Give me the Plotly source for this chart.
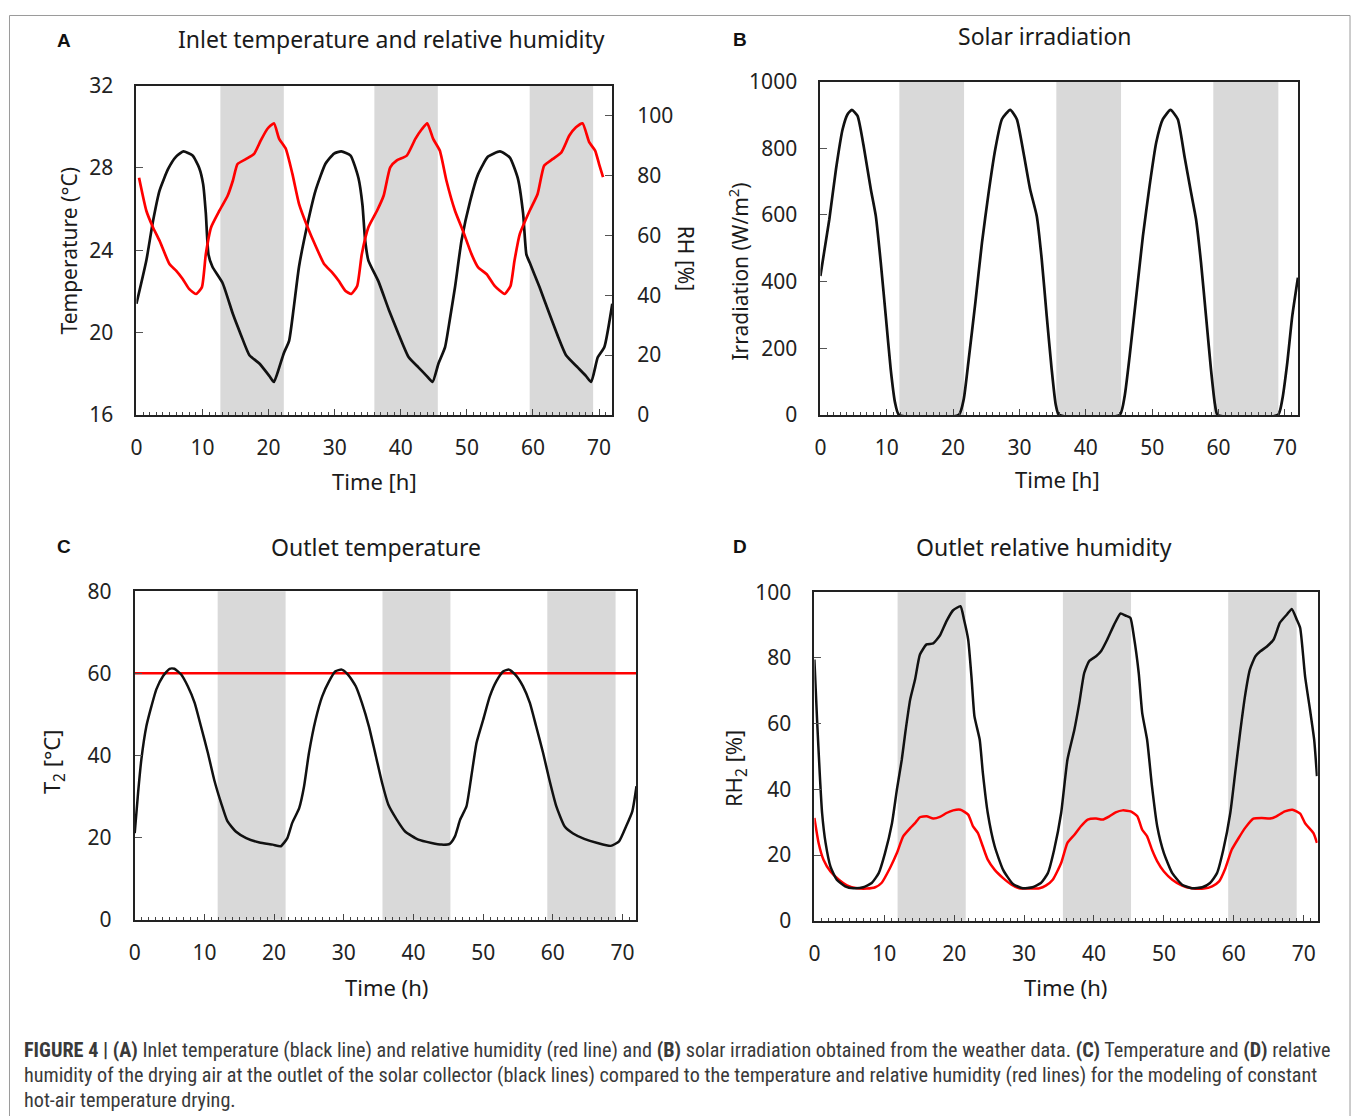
import plotly.graph_objects as go

# ---------------- data ----------------
# Panel A: inlet temperature (°C) and relative humidity (%)
a_temp_t = [0, 1.5, 2.5, 3.5, 4.8, 6.0, 7.1, 8.5, 9.5, 10.1, 10.5, 10.9, 11.5, 13.05, 14.6, 15.8, 17.1, 18.6,
            20.1, 20.8, 21.6, 22.3, 23.1, 23.8, 24.6, 25.9, 27.1, 28.6, 29.9, 31.0, 32.4, 33.6, 34.2, 34.6, 35.1,
            36.6, 38.2, 39.7, 41.2, 42.7, 43.9, 44.8, 45.7, 46.7, 47.4, 48.2, 49.2, 50.5, 51.7, 53.2, 55.0, 56.5,
            57.7, 58.5, 59.0, 59.5, 61.0, 62.5, 63.8, 65.0, 66.8, 68.0, 68.8, 69.8, 70.8, 72.0]
a_temp = [21.4, 23.5, 25.4, 26.9, 27.95, 28.55, 28.8, 28.6, 28.0, 27.2, 25.8, 23.8, 23.2, 22.4, 20.9, 19.9, 18.9,
          18.5, 17.9, 17.6, 18.3, 19.0, 19.6, 21.2, 23.2, 25.3, 26.9, 28.2, 28.7, 28.8, 28.6, 27.5, 26.2, 24.5,
          23.5, 22.5, 21.1, 19.9, 18.8, 18.3, 17.9, 17.6, 18.5, 19.3, 20.6, 22.2, 24.5, 26.4, 27.7, 28.55, 28.8,
          28.5, 27.5, 25.8, 23.8, 23.4, 22.2, 20.9, 19.8, 18.9, 18.3, 17.9, 17.6, 18.8, 19.3, 21.4]
a_rh_t = [0.4, 1.5, 2.5, 3.5, 5.0, 6.0, 7.0, 8.0, 9.0, 9.9, 10.5, 11.3, 12.55, 13.8, 14.6, 15.3, 16.6, 17.8, 18.8,
          19.8, 20.8, 21.6, 22.6, 23.6, 24.6, 25.9, 27.1, 28.4, 29.6, 30.6, 31.6, 32.5, 33.4, 34.1, 35.1, 36.4,
          37.4, 38.4, 39.4, 40.9, 42.2, 43.2, 44.0, 44.9, 45.9, 46.9, 48.2, 49.4, 50.7, 51.7, 53.0, 54.2, 55.7,
          56.6, 57.2, 58.0, 59.5, 60.7, 61.7, 63.0, 64.3, 65.5, 66.5, 67.5, 68.5, 69.4, 70.0, 70.6]
a_rh = [79.2, 68.2, 62.7, 58.2, 50.4, 48.2, 45.4, 42.0, 40.4, 42.6, 53.7, 62.7, 68.2, 73.2, 78.3, 83.8, 85.5, 87.2,
        91.6, 95.5, 97.4, 92.2, 88.9, 80.5, 70.5, 62.7, 56.5, 50.4, 47.6, 44.8, 41.5, 40.4, 43.1, 53.7, 62.7, 68.2,
        73.2, 82.7, 85.0, 86.6, 92.2, 95.5, 97.4, 92.2, 88.3, 78.3, 68.2, 61.5, 53.7, 49.3, 47.0, 43.1, 40.4, 43.1,
        51.5, 60.4, 68.2, 73.8, 83.3, 85.5, 87.7, 93.3, 96.1, 97.4, 91.1, 88.3, 83.8, 79.4]
a_nights = [(12.7, 22.3), (36.0, 45.6), (59.5, 69.1)]

# Panel B: solar irradiation (W/m2)
b_t = [0, 1.35, 2.35, 3.35, 4.1, 4.75, 5.6, 6.6, 7.6, 8.35, 9.1, 9.85, 10.6, 11.25, 11.85, 20.85, 21.6, 22.35,
       23.35, 24.35, 25.35, 26.35, 27.35, 28.6, 29.6, 30.6, 31.6, 32.6, 33.35, 34.1, 34.85, 35.45, 35.95, 45.1,
       45.85, 46.6, 47.6, 48.6, 49.6, 50.6, 51.6, 52.75, 53.85, 54.85, 55.85, 56.6, 57.35, 58.1, 58.85, 59.45,
       59.85, 68.95, 69.6, 70.35, 71.1, 71.95]
b_irr = [417, 587, 737, 857, 902, 915, 897, 797, 677, 597, 457, 297, 137, 37, 0, 0, 47, 167, 337, 517, 667, 797,
         887, 915, 887, 787, 677, 597, 467, 297, 137, 32, 0, 0, 57, 177, 357, 537, 687, 817, 887, 915, 887, 777,
         667, 587, 457, 297, 137, 32, 0, 0, 47, 157, 297, 412]
b_nights = [(11.9, 21.65), (35.55, 45.3), (59.2, 69.0)]

# Panel C: outlet temperature T2 (°C) and constant hot-air temperature
c_t = [0, 0.48, 0.95, 1.67, 2.4, 3.1, 4.05, 5.0, 5.7, 6.67, 7.6, 8.6, 9.5, 10.5, 11.4, 12.4, 13.3, 14.5, 16.0,
       17.9, 19.8, 20.95, 21.9, 22.6, 23.6, 24.3, 25.0, 25.95, 26.9, 27.9, 28.8, 29.7, 30.6, 31.7, 32.6, 33.6,
       34.5, 35.5, 36.4, 37.6, 38.8, 40.7, 42.6, 44.0, 45.2, 45.95, 46.7, 47.6, 48.3, 49.05, 50.0, 50.95, 51.9,
       52.9, 53.7, 54.6, 55.7, 56.7, 57.6, 58.6, 59.5, 60.5, 61.7, 62.9, 64.5, 66.4, 68.3, 69.5, 70.5, 71.4, 72.0]
c_t2 = [21.1, 30.9, 39.0, 47.1, 52.0, 56.1, 59.3, 61.1, 61.1, 59.7, 56.9, 52.8, 47.1, 40.6, 34.1, 28.4, 24.0,
        21.5, 19.9, 18.8, 18.3, 17.9, 19.9, 23.6, 27.2, 32.5, 40.6, 48.7, 54.4, 58.1, 60.5, 60.9, 59.7, 56.9,
        52.8, 47.1, 40.6, 33.3, 28.0, 24.4, 21.5, 19.5, 18.7, 18.3, 18.5, 20.3, 24.4, 27.6, 34.9, 43.1, 48.7,
        54.4, 58.1, 60.5, 60.9, 59.7, 56.9, 52.8, 47.1, 40.6, 34.1, 27.6, 22.7, 21.0, 19.7, 18.7, 18.0, 19.1,
        22.7, 26.4, 32.5]
c_const_t = [0, 72]
c_const = [60, 60]
c_nights = [(11.9, 21.65), (35.55, 45.3), (59.2, 69.0)]

# Panel D: outlet relative humidity RH2 (%) and constant-temperature RH
d_rh2_t = [0, 0.38, 0.76, 1.1, 1.6, 2.3, 3.2, 4.4, 5.6, 7.0, 8.2, 9.2, 10.1, 11.1, 11.8, 12.5, 13.0, 13.7, 14.4,
           15.1, 16.05, 17.0, 17.95, 18.9, 19.85, 20.9, 21.4, 22.0, 22.5, 22.9, 23.65, 24.1, 24.8, 25.8, 27.0,
           28.4, 29.8, 31.2, 32.4, 33.4, 34.3, 35.3, 36.2, 37.2, 37.9, 38.6, 39.3, 40.3, 41.0, 41.9, 42.9, 43.8,
           44.5, 45.2, 45.7, 46.4, 46.9, 47.6, 48.3, 49.05, 50.0, 51.2, 52.6, 54.0, 55.5, 56.6, 57.6, 58.5, 59.5,
           60.2, 60.9, 61.6, 62.3, 63.1, 63.8, 64.7, 65.7, 66.6, 67.6, 68.3, 69.0, 69.5, 70.2, 70.9, 71.5, 71.9]
d_rh2 = [79.5, 61.2, 45.0, 32.8, 23.7, 16.5, 12.5, 10.5, 9.9, 10.2, 11.5, 14.5, 20.6, 29.7, 39.9, 49.0, 57.2,
         67.3, 73.4, 81.0, 84.1, 84.4, 86.8, 91.2, 94.5, 95.7, 91.7, 85.6, 73.4, 62.2, 55.1, 45.0, 32.8, 22.6,
         15.5, 11.2, 9.9, 10.2, 11.5, 14.5, 21.6, 32.8, 49.0, 58.2, 66.3, 75.4, 79.0, 80.5, 82.0, 85.6, 90.2,
         93.5, 92.9, 92.2, 86.6, 75.4, 63.2, 55.1, 40.9, 28.7, 20.6, 14.5, 11.0, 9.9, 10.2, 11.5, 14.5, 21.6,
         32.8, 45.0, 57.2, 68.3, 76.4, 80.5, 82.0, 83.4, 85.6, 90.7, 93.2, 94.9, 91.7, 89.1, 74.4, 64.3, 55.1, 44.0]
d_rhc_t = [0, 0.6, 1.3, 2.3, 3.5, 4.65, 6.1, 7.5, 8.7, 9.6, 10.8, 11.8, 12.7, 13.7, 14.4, 15.1, 16.05, 17.0, 17.95,
           18.9, 19.85, 20.9, 22.0, 22.7, 23.4, 24.1, 24.8, 25.8, 27.0, 28.2, 29.3, 30.8, 32.2, 33.1, 34.1, 35.3,
           36.2, 37.2, 38.1, 39.1, 40.3, 41.2, 42.2, 43.1, 44.1, 45.25, 46.2, 46.9, 47.6, 48.3, 49.05, 50.0, 51.2,
           52.6, 54.0, 55.7, 56.9, 57.9, 58.8, 59.7, 60.7, 61.6, 62.8, 64.0, 65.2, 66.1, 67.3, 68.4, 69.5, 70.2,
           71.4, 71.9]
d_rhc = [31.3, 23.7, 18.6, 15.0, 12.5, 10.8, 9.9, 9.8, 10.2, 11.5, 16.0, 20.6, 25.7, 28.2, 29.7, 31.5, 31.8, 31.1,
         31.6, 32.8, 33.6, 33.8, 32.3, 28.7, 26.7, 22.6, 18.6, 15.5, 13.0, 11.0, 9.9, 9.8, 9.9, 10.7, 12.5, 17.6,
         23.7, 26.2, 28.7, 30.8, 31.1, 30.8, 31.8, 33.0, 33.6, 33.3, 31.8, 27.7, 25.7, 21.6, 18.1, 15.0, 12.5,
         10.7, 9.9, 9.8, 10.5, 12.0, 16.0, 21.6, 25.2, 28.2, 31.1, 31.3, 31.1, 31.8, 33.3, 33.8, 32.6, 29.7, 26.7,
         23.7]
d_nights = [(11.9, 21.65), (35.55, 45.3), (59.2, 69.0)]

# ---------------- figure ----------------
# Observed placement of the figure in the photographed page: x' = x + 4, y' = 0.974*y + 14.5.
# Positions below are given in reference-picture pixels and converted back.
OX, OY, SY = 4, 14.5, 0.974
W, H = 1354, 1124
def px(x):
    return (x - OX) / W
def py(y):
    return 1 - ((y - OY) / SY) / H

BLACK = "#111111"
RED = "#ff0000"
SHADE = "#d9d9d9"
AX = "#222222"
FONT = "Noto Sans, Open Sans, DejaVu Sans, sans-serif"
TICKFONT = dict(family=FONT, size=21, color="#222222")

fig = go.Figure()
line_kw = dict(shape="spline", smoothing=0.5)

fig.add_trace(go.Scatter(x=a_temp_t, y=a_temp, mode="lines", xaxis="x", yaxis="y",
                         line=dict(color=BLACK, width=2.7, **line_kw)))
fig.add_trace(go.Scatter(x=a_rh_t, y=a_rh, mode="lines", xaxis="x", yaxis="y5",
                         line=dict(color=RED, width=2.7, **line_kw)))
fig.add_trace(go.Scatter(x=b_t, y=b_irr, mode="lines", xaxis="x2", yaxis="y2",
                         line=dict(color=BLACK, width=2.7, **line_kw)))
fig.add_trace(go.Scatter(x=c_const_t, y=c_const, mode="lines", xaxis="x3", yaxis="y3",
                         line=dict(color=RED, width=2.6)))
fig.add_trace(go.Scatter(x=c_t, y=c_t2, mode="lines", xaxis="x3", yaxis="y3",
                         line=dict(color=BLACK, width=2.5, **line_kw)))
fig.add_trace(go.Scatter(x=d_rhc_t, y=d_rhc, mode="lines", xaxis="x4", yaxis="y4",
                         line=dict(color=RED, width=2.5, **line_kw)))
fig.add_trace(go.Scatter(x=d_rh2_t, y=d_rh2, mode="lines", xaxis="x4", yaxis="y4",
                         line=dict(color=BLACK, width=2.5, **line_kw)))

# panel boxes (pixels in the reference: left, right, top, bottom)
boxes = {
    1: (135, 613, 85, 414),
    2: (822, 1302, 81, 414),
    3: (133.3, 637.3, 590, 918.3),
    4: (816, 1321.5, 591, 919.3),
}
yranges = {1: [16, 32], 2: [0, 1000], 3: [0, 80], 4: [0, 100]}
ydticks = {1: 4, 2: 200, 3: 20, 4: 20}

layout = dict(width=W, height=H, margin=dict(l=0, r=0, t=0, b=0),
              paper_bgcolor="white", plot_bgcolor="rgba(0,0,0,0)", showlegend=False)

for i, (l, r, t, b) in boxes.items():
    sx = "" if i == 1 else str(i)
    layout["xaxis" + sx] = dict(
        domain=[px(l), px(r)], range=[0, 72], anchor="y" + sx,
        showgrid=False, zeroline=False, showline=True, mirror=True,
        linecolor=AX, linewidth=2,
        tickmode="linear", tick0=0, dtick=10, ticks="inside", ticklen=6, tickwidth=1,
        tickcolor="#444444",
        minor=dict(dtick=1, tick0=0, ticks="inside", ticklen=3, tickwidth=1, tickcolor="#444444"),
        tickfont=TICKFONT, ticklabelstandoff=13,
    )
    layout["yaxis" + sx] = dict(
        domain=[py(b), py(t)], range=yranges[i], anchor="x" + sx,
        showgrid=False, zeroline=False, showline=True, mirror=True,
        linecolor=AX, linewidth=2,
        tickmode="linear", tick0=0, dtick=ydticks[i], ticks="inside", ticklen=7, tickwidth=1,
        tickcolor="#555555",
        tickfont=TICKFONT, ticklabelstandoff=17,
    )
layout["yaxis"]["tick0"] = 16
layout["yaxis5"] = dict(
    overlaying="y", side="right", anchor="x", range=[0, 110],
    showgrid=False, zeroline=False, showline=False,
    tickmode="array", tickvals=[0, 20, 40, 60, 80, 100],
    ticks="inside", ticklen=7, tickwidth=1, tickcolor="#555555",
    tickfont=TICKFONT, ticklabelstandoff=24,
)

# night shading
shapes = []
for sx, nights in (("", a_nights), ("2", b_nights), ("3", c_nights), ("4", d_nights)):
    for (n0, n1) in nights:
        shapes.append(dict(type="rect", xref="x" + sx, yref="y" + sx + " domain",
                           x0=n0, x1=n1, y0=0, y1=1, fillcolor=SHADE,
                           line=dict(width=0), layer="below"))
# outer figure frame (top edge as high as the figure area allows)
shapes.append(dict(type="rect", xref="paper", yref="paper", x0=px(7.5), x1=px(1354),
                   y0=-0.05, y1=1 - 0.5 / H, line=dict(color="#9a9a9a", width=1),
                   fillcolor="rgba(0,0,0,0)", layer="above"))
layout["shapes"] = shapes

ann = []
def text(x, y, s, size=20, angle=0, family=FONT, color="#1a1a1a", xanchor="center"):
    ann.append(dict(x=px(x), y=py(y), xref="paper", yref="paper", text=s, showarrow=False,
                    textangle=angle, xanchor=xanchor, yanchor="middle",
                    font=dict(size=size, family=family, color=color)))

# panel letters
LET = "Liberation Sans, Arial, sans-serif"
text(62, 40, "<b>A</b>", size=19, family=LET, color="#111")
text(741, 39, "<b>B</b>", size=19, family=LET, color="#111")
text(62, 545, "<b>C</b>", size=19, family=LET, color="#111")
text(741, 545, "<b>D</b>", size=19, family=LET, color="#111")
# titles
text(391, 38, "Inlet temperature and relative humidity", size=23)
text(1048, 35, "Solar irradiation", size=23)
text(376, 546, "Outlet temperature", size=23)
text(1047, 546, "Outlet relative humidity", size=23)
# axis titles
text(374, 480, "Time [h]", size=22)
text(1060, 478, "Time [h]", size=22)
text(386, 985, "Time (h)", size=22)
text(1068, 985, "Time (h)", size=22)
text(67, 250, "Temperature (°C)", size=21, angle=-90)
text(687, 258, "RH [%]", size=21, angle=90)
text(740, 271, "Irradiation (W/m<sup>2</sup>)", size=21, angle=-90)
text(52, 760, "T<sub>2</sub> [°C]", size=22, angle=-90)
text(737, 767, "RH<sub>2</sub> [%]", size=22, angle=-90)

# caption
CAP = "Roboto Condensed, Liberation Sans Narrow, Arial Narrow, Liberation Sans, sans-serif"
cap_lines = [
    "<b>FIGURE 4 | (A)</b> Inlet temperature (black line) and relative humidity (red line) and <b>(B)</b> solar irradiation obtained from the weather data. <b>(C)</b> Temperature and <b>(D)</b> relative",
    "humidity of the drying air at the outlet of the solar collector (black lines) compared to the temperature and relative humidity (red lines) for the modeling of constant",
    "hot-air temperature drying.",
]
for k, s in enumerate(cap_lines):
    text(20, 1048 + 25 * k, s, size=20.2, family=CAP, color="#3a3a3a", xanchor="left")

layout["annotations"] = ann
fig.update_layout(**layout)
fig.write_html("out.html")
